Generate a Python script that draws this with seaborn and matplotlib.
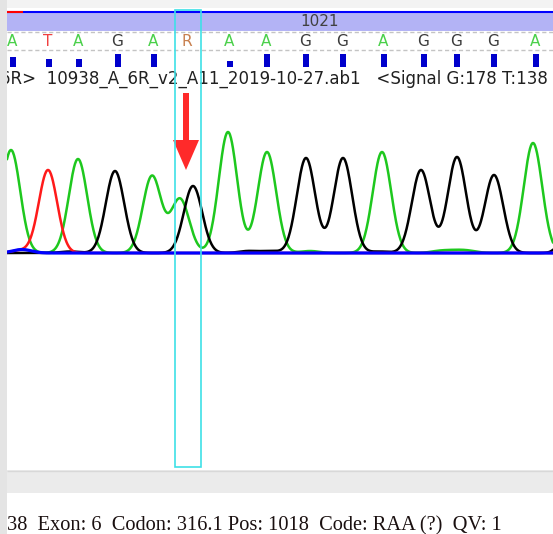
import numpy as np
import pandas as pd
import matplotlib.pyplot as plt
import seaborn as sns
from matplotlib.patches import Rectangle
from matplotlib.transforms import blended_transform_factory

# Base calls in the sequence strip (x = scan position)
base_calls = ["A", "T", "A", "G", "A", "R", "A", "A", "G", "G", "A", "G", "G", "G", "A"]
base_pos = [12, 48, 78, 117, 153, 187, 229, 266, 305, 342, 383, 423, 456, 493, 535]
base_qv = [10, 8, 8, 13, 13, 0, 6, 13, 13, 13, 13, 13, 13, 13, 13]
selected = 5  # the ambiguous "R" call

# Trace peaks per dye channel: centre (scan) and height (signal)
a_peaks_x = [11, 78, 152, 180, 228, 267, 310, 382, 440, 455, 468, 533]
a_peaks_h = [103, 94, 77, 54, 121, 101, 2, 101, 2, 2, 2, 110]
g_peaks_x = [70, 115, 193, 248, 270, 306, 343, 380, 421, 457, 494, 577]
g_peaks_h = [1.5, 82, 67, 2, 2, 95, 95, 1.5, 83, 96, 78, 100]
t_peaks_x = [20, 48]
t_peaks_h = [2.5, 83]
c_peaks_x = [22]
c_peaks_h = [3.5]
PEAK_WIDTH = 9.2

header_label = "1021"
file_label = "6R>  10938_A_6R_v2_A11_2019-10-27.ab1   <Signal G:178 T:138 A:182 C:6"
status_label = "38  Exon: 6  Codon: 316.1 Pos: 1018  Code: RAA (?)  QV: 1"

channel_colors = {"A": "#1ec81e", "G": "#000000", "T": "#ff1a1a", "C": "#0000ff"}
letter_colors = {"A": "#4ad04a", "T": "#f04040", "G": "#3a3a3a", "R": "#c8804f"}

W, H = 553, 534
X0, X1 = 7, 553


def trace(xs, centres, heights):
    y = np.zeros_like(xs)
    for c, h in zip(centres, heights):
        y += h * np.exp(-(xs - c) ** 2 / (2 * PEAK_WIDTH ** 2))
    return y


def strip_axes(ax):
    ax.set_xticks([])
    ax.set_yticks([])
    for s in ax.spines.values():
        s.set_visible(False)


def px_axes(fig, top, bottom, facecolor="white"):
    # axes spanning pixel rows top..bottom (from the top of the figure)
    ax = fig.add_axes([X0 / W, 1 - bottom / H, (X1 - X0) / W, (bottom - top) / H],
                      facecolor=facecolor)
    strip_axes(ax)
    ax.set_xlim(X0, X1)
    return ax


sns.set_style("white")
plt.rcParams["font.family"] = ["DejaVu Sans"]

fig = plt.figure(figsize=(W / 100, H / 100), dpi=100, facecolor="#e4e4e4")

# ---- chromatogram ----
scan = np.arange(X0, X1 + 0.5, 0.5)
df = pd.concat([
    pd.DataFrame({"scan": scan, "signal": trace(scan, a_peaks_x, a_peaks_h), "dye": "A"}),
    pd.DataFrame({"scan": scan, "signal": trace(scan, g_peaks_x, g_peaks_h), "dye": "G"}),
    pd.DataFrame({"scan": scan, "signal": trace(scan, t_peaks_x, t_peaks_h), "dye": "T"}),
])
c_df = pd.DataFrame({"scan": scan, "signal": trace(scan, c_peaks_x, c_peaks_h)})

base_y = 253
ax_c = px_axes(fig, 90, 470)
ax_c.set_ylim(-(470 - base_y), base_y - 90)
sns.lineplot(data=df, x="scan", y="signal", hue="dye", palette=channel_colors,
             estimator=None, linewidth=1.8, legend=False, ax=ax_c)
sns.lineplot(data=c_df, x="scan", y="signal", color=channel_colors["C"],
             estimator=None, linewidth=2.3, ax=ax_c, zorder=3)
ax_c.set_xlabel("")
ax_c.set_ylabel("")

sel_x = base_pos[selected]
ax_c.arrow(sel_x - 1, base_y - 93, 0, -77, width=6, head_width=26, head_length=30,
           length_includes_head=True, color="#ff2a2a", zorder=5, linewidth=0)

# ---- header: ruler, base calls, quality bars, file name ----
ax_h = px_axes(fig, 0, 90)
ax_h.set_ylim(90, 0)
ax_h.axhspan(0, 8, color="#f3f3f3", lw=0)
ax_h.axhspan(12.5, 31, color="#b3b3f5", lw=0)
ax_h.hlines(11.5, X0, X1, color="#0000ff", lw=1.5)
ax_h.hlines(11.5, X0, 23, color="#ff0000", lw=1.5)
for yy in (32, 50):
    ax_h.hlines(yy, X0, X1, color="#c4c4c4", lw=1, linestyles=(0, (3, 2)))
ax_h.text(320, 22, header_label, ha="center", va="center", fontsize=11, color="#404040")
for b, x in zip(base_calls, base_pos):
    ax_h.text(x, 42, b, ha="center", va="center", fontsize=11, color=letter_colors[b])
ax_h.bar(np.array(base_pos) + 1, -np.array(base_qv), bottom=67, width=6,
         color="#0000cc", lw=0)
ax_h.text(0, 79, file_label, ha="left", va="center", fontsize=12,
          color="#202020", clip_on=True)

# ---- bottom: scroll area and status bar ----
ax_b = px_axes(fig, 470, 534)
ax_b.set_ylim(534, 470)
ax_b.axhspan(470, 493, color="#ebebeb", lw=0)
ax_b.hlines(470.5, X0, X1, color="#d8d8d8", lw=1)
ax_b.text(X0, 530, status_label, ha="left", va="baseline", fontsize=14.7,
          family=["Liberation Serif"], color="#1a1010")

# ---- selection box round the chosen base ----
tr = blended_transform_factory(ax_c.transData, fig.transFigure)
fig.add_artist(Rectangle((sel_x - 12, 1 - 467 / H), 26, 457 / H, transform=tr,
                         fill=False, edgecolor="#3ee0e6", lw=1.2))

fig.savefig("out.png", dpi=100, facecolor=fig.get_facecolor())
